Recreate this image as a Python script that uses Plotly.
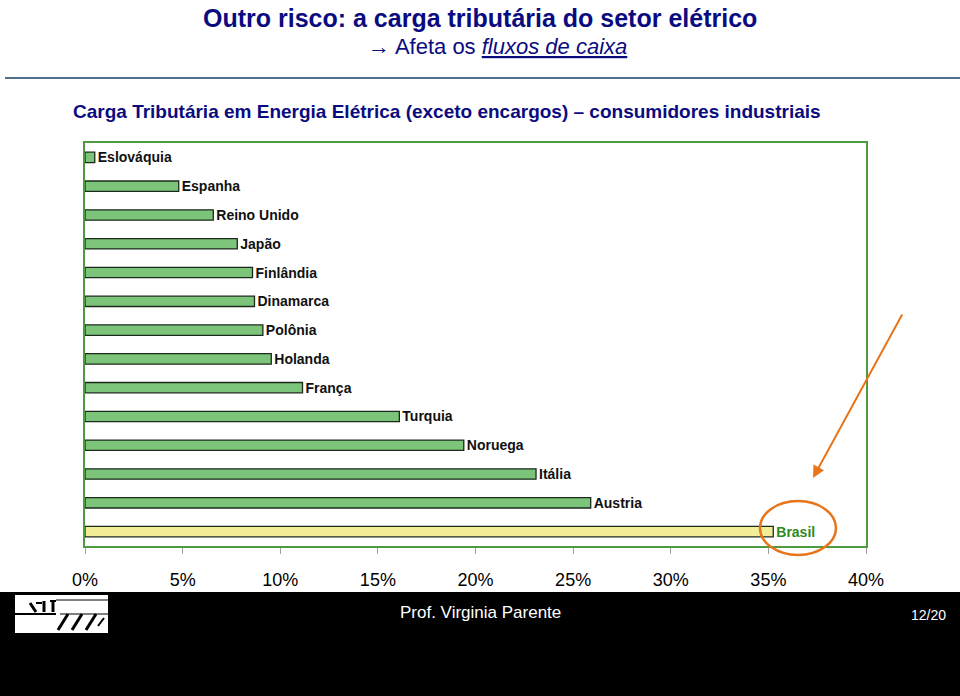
import plotly.graph_objects as go

# Carga tributária (exceto encargos) - consumidores industriais
paises = ['Eslováquia', 'Espanha', 'Reino Unido', 'Japão', 'Finlândia', 'Dinamarca',
          'Polônia', 'Holanda', 'França', 'Turquia', 'Noruega', 'Itália', 'Austria', 'Brasil']
carga = [0.005, 0.048, 0.0657, 0.078, 0.0858, 0.0868,
         0.0911, 0.0954, 0.1114, 0.161, 0.194, 0.231, 0.259, 0.3525]
tick_vals = [0, 0.05, 0.10, 0.15, 0.20, 0.25, 0.30, 0.35, 0.40]
tick_text = ['0%', '5%', '10%', '15%', '20%', '25%', '30%', '35%', '40%']

W, H = 960, 696
FONTE = 'Liberation Sans, Arial'
NAVY = '#0B0B80'
VERDE = '#4E9A3E'

def px(x):
    return x / W

def py(y):
    return 1 - y / H

cores = ['#F2EE98' if p == 'Brasil' else '#7CC47A' for p in paises]
cores_txt = ['#2E8B22' if p == 'Brasil' else '#111111' for p in paises]

fig = go.Figure()
fig.add_trace(go.Bar(
    x=carga,
    y=paises,
    orientation='h',
    width=0.36,
    marker=dict(color=cores, line=dict(color='#1B2A1B', width=1.3)),
    text=paises,
    textposition='outside',
    constraintext='none',
    textfont=dict(family=FONTE, size=14, color=cores_txt, weight='bold'),
    cliponaxis=False,
    hoverinfo='x+y',
    showlegend=False
))

fig.update_layout(
    width=W, height=H,
    margin=dict(l=0, r=0, t=0, b=0, autoexpand=False),
    paper_bgcolor='white',
    plot_bgcolor='white',
    xaxis=dict(
        domain=[px(85), px(866)],
        range=[0, 0.40],
        tickvals=tick_vals,
        ticktext=tick_text,
        ticks='outside', ticklen=6, tickcolor='#A0A0A0',
        tickfont=dict(family=FONTE, size=18, color='black'),
        ticklabelstandoff=10,
        automargin=False,
        showgrid=False, zeroline=False,
        showline=True, linecolor=VERDE, linewidth=2, mirror=True,
    ),
    yaxis=dict(
        domain=[py(546), py(143)],
        autorange='reversed',
        showticklabels=False,
        automargin=False,
        showgrid=False, zeroline=False,
        showline=True, linecolor=VERDE, linewidth=2, mirror=True,
    ),
)

def texto(x, y, s, size, color, **kw):
    fig.add_annotation(x=px(x), y=py(y), xref='paper', yref='paper', showarrow=False,
                       xanchor='center', yanchor='middle', text=s,
                       font=dict(family=FONTE, size=size, color=color), **kw)

# Títulos
texto(480, 18, '<b>Outro risco: a carga tributária do setor elétrico</b>', 25, NAVY)
texto(497, 47, '→ Afeta os <i><u>fluxos de caixa</u></i>', 22, NAVY)
texto(447, 111, '<b>Carga Tributária em Energia Elétrica (exceto encargos) – consumidores industriais</b>', 19, NAVY)

# linha divisória
fig.add_shape(type='line', xref='paper', yref='paper',
              x0=px(5), x1=1, y0=py(78), y1=py(78),
              line=dict(color='#4F6E8E', width=2))

# destaque do Brasil
fig.add_shape(type='circle', xref='paper', yref='paper',
              x0=px(760), x1=px(836), y0=py(555), y1=py(501),
              line=dict(color='#E8751A', width=2.5))
fig.add_annotation(x=px(813), y=py(478), xref='paper', yref='paper',
                   ax=90, ay=-165, showarrow=True, arrowhead=2, arrowsize=1.2,
                   arrowwidth=2, arrowcolor='#E8751A', text='')

# rodapé
fig.add_shape(type='rect', xref='paper', yref='paper', x0=0, x1=1, y0=0, y1=py(592),
              fillcolor='black', line=dict(width=0), layer='below')
fig.add_shape(type='rect', xref='paper', yref='paper',
              x0=px(15), x1=px(108), y0=py(633), y1=py(595),
              fillcolor='white', line=dict(width=0))
for x0, y0, x1, y1, w in [(15, 614, 56, 614, 2), (56, 600, 108, 600, 1),
                          (30, 603, 36, 612, 3), (36, 603, 42, 603, 2), (44, 601, 44, 612, 3),
                          (50, 601, 56, 601, 2), (53, 601, 53, 612, 3),
                          (58, 630, 68, 614, 3), (72, 630, 82, 614, 3),
                          (86, 630, 96, 614, 3), (98, 626, 104, 618, 2),
                          (60, 614, 108, 614, 1)]:
    fig.add_shape(type='line', xref='paper', yref='paper',
                  x0=px(x0), x1=px(x1), y0=py(y0), y1=py(y1),
                  line=dict(color='black', width=w))
texto(480, 612, 'Prof. Virginia Parente', 17, 'white')
texto(928, 615, '12/20', 14, 'white')

fig.write_html("out.html", config={'displayModeBar': False},
               post_script="document.body.style.margin='0';"
                           "document.body.style.overflow='hidden';")
